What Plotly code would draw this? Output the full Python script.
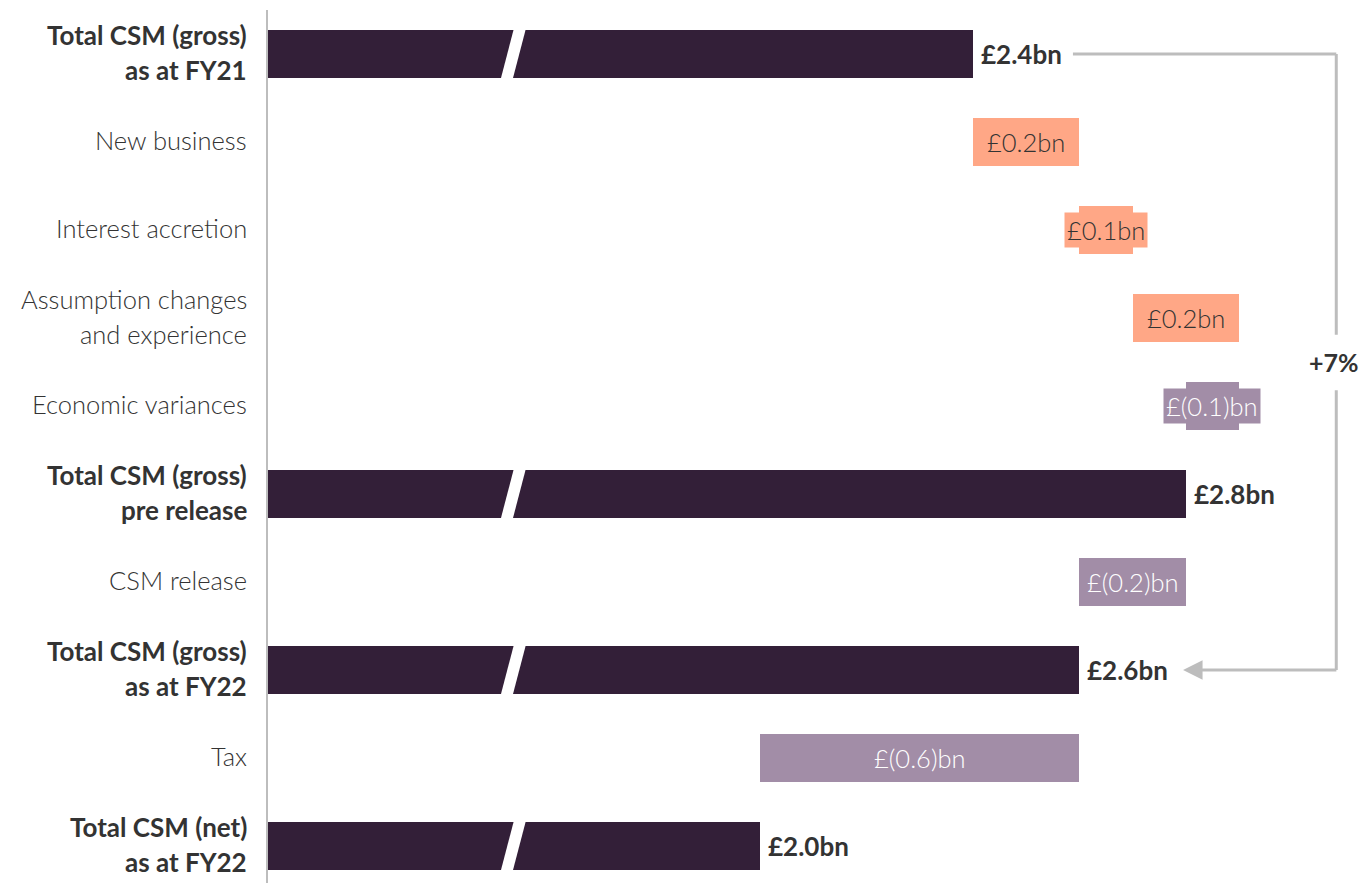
import plotly.graph_objects as go

# ---- data ----
categories = [
    "<b>Total CSM (gross)<br>as at FY21</b>",
    "New business",
    "Interest accretion",
    "Assumption changes<br>and experience",
    "Economic variances",
    "<b>Total CSM (gross)<br>pre release</b>",
    "CSM release",
    "<b>Total CSM (gross)<br>as at FY22</b>",
    "Tax",
    "<b>Total CSM (net)<br>as at FY22</b>",
]
values = [2.4, 0.2, 0.1, 0.2, -0.1, 2.8, -0.2, 2.6, -0.6, 2.0]
kinds = ["total", "delta", "delta", "delta", "delta", "total", "delta", "total", "delta", "total"]
labels = ["£2.4bn", "£0.2bn", "£0.1bn", "£0.2bn", "£(0.1)bn", "£2.8bn", "£(0.2)bn", "£2.6bn", "£(0.6)bn", "£2.0bn"]
change_label = "+7%"

# ---- styles ----
DARK = "#331F38"
ORANGE = "#FFA786"
PURPLE = "#A28DA7"
GREY = "#BDBDBD"
TXT = "#333333"
FONT = "Lato"
FS_REG = 25.5
FS_BOLD = 26

# running totals
bases, lengths, colors = [], [], []
running = 0.0
for v, k in zip(values, kinds):
    if k == "total":
        bases.append(0.0)
        lengths.append(v)
        colors.append(DARK)
        running = v
    else:
        bases.append(running)
        lengths.append(v)
        colors.append(ORANGE if v > 0 else PURPLE)
        running = round(running + v, 6)

ypos = list(range(len(categories)))
BAR_W = 0.545

fig = go.Figure()
fig.add_trace(go.Bar(
    orientation="h", y=ypos, x=lengths, base=bases,
    marker=dict(color=colors, line=dict(width=0)),
    width=BAR_W, hoverinfo="skip", showlegend=False,
))

annotations = []
shapes = []

# category labels (line by line for spacing control)
for i, cat in enumerate(categories):
    bold = cat.startswith("<b>")
    raw = cat.replace("<b>", "").replace("</b>", "")
    lines = raw.split("<br>")
    n = len(lines)
    for j, ln in enumerate(lines):
        off = (j - (n - 1) / 2) * 35
        annotations.append(dict(
            xref="paper", yref="y", x=0, y=i, xanchor="right", yanchor="middle",
            xshift=-19, yshift=-off + 2, showarrow=False,
            text=f"<b>{ln}</b>" if bold else ln,
            font=dict(family=FONT, size=FS_BOLD if bold else FS_REG, color=TXT,
                      weight=None if bold else 300),
        ))

# value labels
for i, (b, l, k, lab, c) in enumerate(zip(bases, lengths, kinds, labels, colors)):
    if k == "total":
        annotations.append(dict(
            x=b + l, y=i, xanchor="left", yanchor="middle", xshift=6, showarrow=False,
            text=f"<b>{lab}</b>", font=dict(family=FONT, size=FS_BOLD, color=TXT),
        ))
    else:
        annotations.append(dict(
            x=b + l / 2, y=i, xanchor="center", yanchor="middle", showarrow=False,
            text=lab, bgcolor=c, borderpad=2,
            font=dict(family=FONT, size=FS_REG, weight=300,
                      color=TXT if l > 0 else "#FFFFFF"),
        ))

# axis break marks on total bars
BREAK_AT = 1.536
BREAK_HALF_W = 0.0113
BREAK_SLANT = 0.0118
half_h = 0.30
for i, k in enumerate(kinds):
    if k == "total":
        s = BREAK_SLANT * half_h / (BAR_W / 2)
        path = (f"M {BREAK_AT - BREAK_HALF_W + s},{i - half_h} "
                f"L {BREAK_AT + BREAK_HALF_W + s},{i - half_h} "
                f"L {BREAK_AT + BREAK_HALF_W - s},{i + half_h} "
                f"L {BREAK_AT - BREAK_HALF_W - s},{i + half_h} Z")
        shapes.append(dict(type="path", xref="x", yref="y", path=path,
                           fillcolor="white", line=dict(width=0), layer="above"))

# bracket showing change FY21 -> FY22
i_start = 0
i_end = 7
BR_X = 3.083
start_x = values[i_start] + 0.188
tip_x = values[i_end] + 0.195
gap_top, gap_bot = 3.19, 3.82
line_style = dict(color=GREY, width=3)
shapes.append(dict(type="line", xref="x", yref="y", x0=start_x, x1=BR_X, y0=i_start, y1=i_start, line=line_style))
shapes.append(dict(type="line", xref="x", yref="y", x0=BR_X, x1=BR_X, y0=i_start, y1=gap_top, line=line_style))
shapes.append(dict(type="line", xref="x", yref="y", x0=BR_X, x1=BR_X, y0=gap_bot, y1=i_end, line=line_style))
annotations.append(dict(
    x=tip_x, y=i_end, ax=BR_X + 0.003, ay=i_end, axref="x", ayref="y",
    showarrow=True, arrowhead=2, arrowsize=1.3, arrowwidth=3, arrowcolor=GREY, text="",
))
annotations.append(dict(
    x=BR_X, y=(gap_top + gap_bot) / 2, showarrow=False, xanchor="center", yanchor="middle",
    xshift=-2, text=f"<b>{change_label}</b>", font=dict(family=FONT, size=25, color=TXT),
))

fig.update_layout(
    width=1365, height=883,
    margin=dict(l=268, r=0, t=10, b=0),
    paper_bgcolor="white", plot_bgcolor="white",
    xaxis=dict(range=[1.075, 3.137], visible=False, showgrid=False, zeroline=False),
    yaxis=dict(range=[9.42, -0.5], showticklabels=False, showgrid=False, zeroline=False,
               showline=True, linecolor=GREY, linewidth=2),
    annotations=annotations, shapes=shapes,
    bargap=0, font=dict(family=FONT),
)

fig.write_html(
    "out.html",
    config={"displayModeBar": False},
    post_script="document.body.style.margin='0';document.body.style.overflow='hidden';",
)
